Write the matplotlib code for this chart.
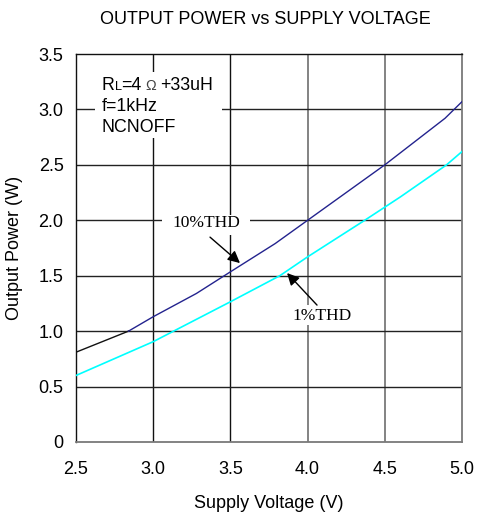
import matplotlib
matplotlib.use("Agg")
import matplotlib.pyplot as plt
from matplotlib.patches import Rectangle
from matplotlib.offsetbox import TextArea, HPacker, VPacker, AnnotationBbox

# ---- data ----
v_10 = [2.5, 2.84, 3.0, 3.28, 3.5, 3.79, 4.0, 4.5, 4.89, 5.0]
p_10 = [0.81, 1.0, 1.13, 1.34, 1.535, 1.79, 2.0, 2.5, 2.92, 3.07]
v_1 = [2.5, 3.0, 3.5, 3.82, 4.0, 4.37, 4.6, 4.9, 5.0]
p_1 = [0.60, 0.905, 1.265, 1.5, 1.67, 2.0, 2.21, 2.5, 2.62]
x_ticks = [2.5, 3.0, 3.5, 4.0, 4.5, 5.0]
x_labels = ["2.5", "3.0", "3.5", "4.0", "4.5", "5.0"]
y_ticks = [0, 0.5, 1.0, 1.5, 2.0, 2.5, 3.0, 3.5]
y_labels = ["0", "0.5", "1.0", "1.5", "2.0", "2.5", "3.0", "3.5"]

sans = "Liberation Sans"
serif = "Liberation Serif"

fig = plt.figure(figsize=(4.87, 5.15), dpi=100)
ax = fig.add_axes([76/487, 1-442/515, (462-76)/487, (442-54)/515])
ax.set_xlim(2.5, 5.0)
ax.set_ylim(0, 3.5)

# grid
for x in x_ticks[1:-1]:
    c = "#111111" if x < 3.75 else "#7a7a7a"
    lw = 1.0 if x < 3.75 else 1.3
    ax.axvline(x, color=c, lw=lw, zorder=1)
for y in y_ticks[1:-1]:
    ax.axhline(y, color="#222222", lw=1.0, zorder=1)

for side in ["left", "top"]:
    ax.spines[side].set_color("#111111")
    ax.spines[side].set_linewidth(1.0)
for side in ["right", "bottom"]:
    ax.spines[side].set_color("#7a7a7a")
    ax.spines[side].set_linewidth(1.3)

# white boxes behind texts
ax.add_patch(Rectangle((2.623, 2.741), 3.446-2.623, 3.336-2.741, facecolor="white", edgecolor="none", zorder=2))
ax.add_patch(Rectangle((3.057, 1.867), 3.627-3.057, 2.047-1.867, facecolor="white", edgecolor="none", zorder=2))
ax.add_patch(Rectangle((3.847, 1.055), 4.339-3.847, 1.235-1.055, facecolor="white", edgecolor="none", zorder=2))

# curves
ax.plot(v_10[:2], p_10[:2], color="#111111", lw=1.0, zorder=3)
ax.plot(v_10[1:], p_10[1:], color="#23238e", lw=1.0, zorder=3)
ax.plot(v_1, p_1, color="#00ffff", lw=1.2, zorder=3)

ax.set_xticks(x_ticks)
ax.set_xticklabels(x_labels, fontfamily=sans, fontsize=13)
ax.set_yticks(y_ticks)
ax.set_yticklabels(y_labels, fontfamily=sans, fontsize=13)
ax.tick_params(axis="both", length=0)
ax.tick_params(axis="x", pad=14)
ax.tick_params(axis="y", pad=9)

ax.set_xlabel("Supply Voltage (V)", fontfamily=sans, fontsize=13, labelpad=12)
ax.set_ylabel("Output Power (W)", fontfamily=sans, fontsize=13, labelpad=11)
fig.text(265/487, 1-20/515, "OUTPUT POWER vs SUPPLY VOLTAGE", fontfamily=sans, fontsize=13,
         ha="center", va="center")

# condition text
fs = 12.8
line1 = HPacker(children=[TextArea("R", textprops=dict(family=sans, size=fs)),
                          TextArea("L", textprops=dict(family=sans, size=fs*0.72)),
                          TextArea("=4", textprops=dict(family=sans, size=fs)),
                          TextArea(" \u03a9 ", textprops=dict(family=sans, size=fs*0.8, color="#444444")),
                          TextArea("+33uH", textprops=dict(family=sans, size=fs))],
                align="baseline", pad=0, sep=0)
line2 = TextArea("f=1kHz", textprops=dict(family=sans, size=fs))
line3 = TextArea("NCNOFF", textprops=dict(family=sans, size=fs))
block = VPacker(children=[line1, line2, line3], align="left", pad=0, sep=3)
ab = AnnotationBbox(block, (2.5 + (101.7-76)/154.4, (442-77)/110.9), xycoords="data",
                    box_alignment=(0, 1), frameon=False, pad=0, zorder=4)
ax.add_artist(ab)

# THD labels with arrows
ax.text(3.342, 1.972, "10%THD", fontfamily=serif, fontsize=12.5, ha="center", va="center", zorder=4)
ax.annotate("", xy=(3.562, 1.614), xytext=(3.368, 1.848),
            arrowprops=dict(arrowstyle="-|>", color="black", lw=1.0, mutation_scale=18,
                            shrinkA=0, shrinkB=0), zorder=4)
ax.text(4.093, 1.136, "1%THD", fontfamily=serif, fontsize=12.5, ha="center", va="center", zorder=4)
ax.annotate("", xy=(3.867, 1.524), xytext=(4.061, 1.235),
            arrowprops=dict(arrowstyle="-|>", color="black", lw=1.0, mutation_scale=18,
                            shrinkA=0, shrinkB=0), zorder=4)

fig.savefig("out.png", dpi=100)
